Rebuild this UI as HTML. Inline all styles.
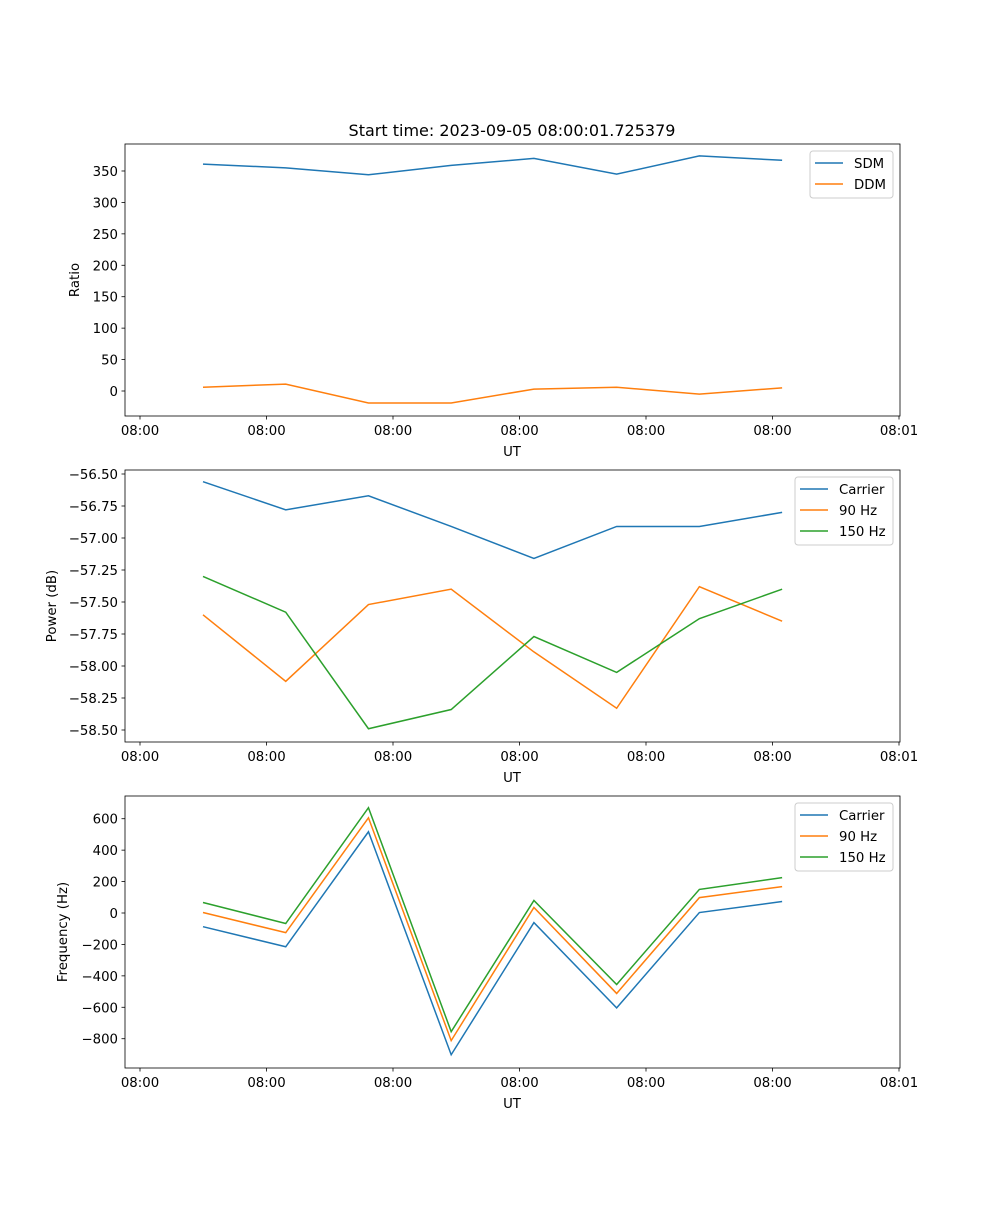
<!DOCTYPE html>
<html><head><meta charset="utf-8"><style>
body{margin:0;background:#fff}
svg text{font-family:"DejaVu Sans","Liberation Sans",sans-serif;font-size:13.3px;fill:#000}
</style></head><body>
<svg id="fig" width="1000" height="1200" xmlns="http://www.w3.org/2000/svg"></svg>
<script>
const times=[4.98,11.52,18.06,24.6,31.14,37.68,44.22,50.76];
const xTickVals=[0,10,20,30,40,50,60];
const xTickLabels=["08:00","08:00","08:00","08:00","08:00","08:00","08:01"];
const sdm=[361,355,344,359,370,345,374,367];
const ddm=[6,11,-19,-19,3,6,-5,5];
const pCarrier=[-56.56,-56.78,-56.67,-56.91,-57.16,-56.91,-56.91,-56.80];
const p90=[-57.60,-58.12,-57.52,-57.40,-57.89,-58.33,-57.38,-57.65];
const p150=[-57.30,-57.58,-58.49,-58.34,-57.77,-58.05,-57.63,-57.40];
const fCarrier=[-87,-215,517,-902,-61,-604,3,73];
const f90=[3,-125,606,-812,35,-512,98,168];
const f150=[67,-67,670,-755,80,-455,150,225];
const ratioTicks=[0,50,100,150,200,250,300,350];
const powerTicks=[-58.5,-58.25,-58,-57.75,-57.5,-57.25,-57,-56.75,-56.5];
const freqTicks=[-800,-600,-400,-200,0,200,400,600];
const C=["#1f77b4","#ff7f0e","#2ca02c"];
const NS="http://www.w3.org/2000/svg";
const svg=document.getElementById('fig');
function mk(tag,attrs,parent){const e=document.createElementNS(NS,tag);for(const k in attrs)e.setAttribute(k,attrs[k]);(parent||svg).appendChild(e);return e;}
const L=125,R=900;
const xs=t=>140+(t-0)*(899-140)/60;
function panel(name,top,bot,yFn,ticks,fmt,ylabel,series,labels,legend){
  const g=mk('g',{});
  
  
  ticks.forEach(v=>{const y=yFn(v);
    const l=mk('line',{x1:L-3.5,x2:L,y1:y,y2:y,stroke:'#000','stroke-width':0.8},g);
    
    const t=mk('text',{x:L-7,y:y+5,'text-anchor':'end'},g);t.textContent=fmt(v);
    });
  xTickVals.forEach((v,i)=>{const x=xs(v);
    const l=mk('line',{x1:x,x2:x,y1:bot,y2:bot+3.5,stroke:'#000','stroke-width':0.8},g);
    
    const t=mk('text',{x:x,y:bot+19,'text-anchor':'middle'},g);t.textContent=xTickLabels[i];
    });
  const xl=mk('text',{x:512,y:bot+40,'text-anchor':'middle'},g);xl.textContent='UT';
  
  const cy=(top+bot)/2;
  const yl=mk('text',{x:0,y:0,'text-anchor':'middle',transform:`translate(${name==='ratio'?79:name==='power'?56:67},${cy}) rotate(-90)`},g);yl.textContent=ylabel;
  
  series.forEach((s,i)=>{
    const p=mk('polyline',{points:s.map((v,j)=>xs(times[j])+','+yFn(v)).join(' '),fill:'none',stroke:C[i],'stroke-width':1.5},g);
    });
  const fr=mk('rect',{x:L,y:top,width:R-L,height:bot-top,fill:'none',stroke:'#000','stroke-width':0.8},g);
  
  const lg=mk('g',{},g);
  
  mk('rect',{x:legend.x,y:top+7,width:893-legend.x,height:labels.length*21+5,rx:3,fill:'#fff',stroke:'#ccc','stroke-width':1},lg);
  labels.forEach((lab,i)=>{const y=top+19+i*21;
    mk('line',{x1:legend.x+5,x2:legend.x+33,y1:y,y2:y,stroke:C[i],'stroke-width':1.5},lg);
    const t=mk('text',{x:legend.x+44,y:y+5},lg);t.textContent=lab;
    });
}
panel('ratio',144,416,v=>391-v*0.6286,ratioTicks,v=>String(v),'Ratio',[sdm,ddm],['SDM','DDM'],{x:810});
panel('power',470,742,v=>474+(-56.5-v)*128,powerTicks,v=>'\u2212'+Math.abs(v).toFixed(2),'Power (dB)',[pCarrier,p90,p150],['Carrier','90 Hz','150 Hz'],{x:795});
panel('frequency',796,1068,v=>913-v*0.15714,freqTicks,v=>(v<0?'\u2212':'')+Math.abs(v),'Frequency (Hz)',[fCarrier,f90,f150],['Carrier','90 Hz','150 Hz'],{x:795});
const title=mk('text',{x:512,y:136,'text-anchor':'middle',style:'font-size:16px'});
title.textContent='Start time: 2023-09-05 08:00:01.725379';


</script>
</body></html>
